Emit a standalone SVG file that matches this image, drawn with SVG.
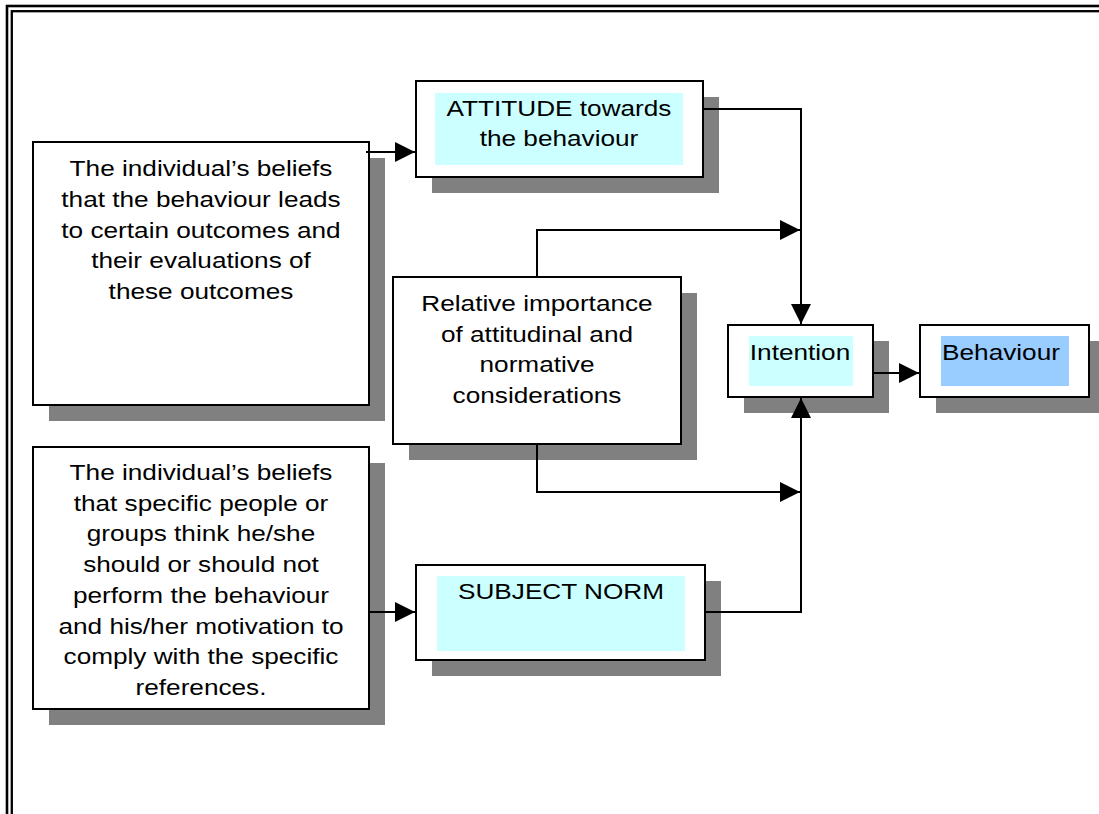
<svg xmlns="http://www.w3.org/2000/svg" width="1099" height="814" viewBox="0 0 1099 814">
  <style>
    .shadow { fill: #808080; }
    .box { fill: #ffffff; stroke: #000000; stroke-width: 2; }
    .hl { fill: #ccffff; }
    .hl2 { fill: #99ccff; }
    .frame { fill: none; stroke: #000000; }
    .conn { fill: none; stroke: #000000; stroke-width: 2; }
    text { font-family: "Liberation Sans", Arial, sans-serif; font-size: 22px; fill: #000000; text-anchor: middle; }
  </style>
  <defs>
    <marker id="arrow" markerWidth="20" markerHeight="20" refX="20" refY="10" orient="auto" markerUnits="userSpaceOnUse">
      <path d="M0,0 L20,10 L0,20 Z" fill="#000000"/>
    </marker>
  </defs>

  <rect x="0" y="0" width="1099" height="814" fill="#ffffff"/>

  <!-- double page frame -->
  <g id="frame">
    <rect class="frame" x="7" y="6" width="1200" height="900" stroke-width="2.6"/>
    <rect class="frame" x="11.8" y="11.2" width="1200" height="900" stroke-width="2.3"/>
  </g>

  <!-- beliefs about outcomes -->
  <g id="beliefs-outcomes">
    <rect class="shadow" x="49" y="158" width="336" height="263"/>
    <rect class="box" x="33" y="142" width="336" height="263"/>
    <g transform="translate(201,0) scale(1.19,1)">
      <text x="0" y="176">The individual’s beliefs</text>
      <text x="0" y="207">that the behaviour leads</text>
      <text x="0" y="238">to certain outcomes and</text>
      <text x="0" y="268">their evaluations of</text>
      <text x="0" y="299">these outcomes</text>
    </g>
  </g>

  <!-- attitude -->
  <g id="attitude">
    <rect class="shadow" x="432" y="97" width="287" height="96"/>
    <rect class="box" x="416" y="81" width="287" height="96"/>
    <rect class="hl" x="435" y="93" width="248" height="72"/>
    <g transform="translate(559,0) scale(1.19,1)">
      <text x="0" y="116">ATTITUDE towards</text>
      <text x="0" y="146">the behaviour</text>
    </g>
  </g>

  <!-- relative importance -->
  <g id="relative-importance">
    <rect class="shadow" x="409" y="293" width="288" height="167"/>
    <rect class="box" x="393" y="277" width="288" height="167"/>
    <g transform="translate(537,0) scale(1.19,1)">
      <text x="0" y="311">Relative importance</text>
      <text x="0" y="342">of attitudinal and</text>
      <text x="0" y="372">normative</text>
      <text x="0" y="403">considerations</text>
    </g>
  </g>

  <!-- intention -->
  <g id="intention">
    <rect class="shadow" x="744" y="341" width="145" height="72"/>
    <rect class="box" x="728" y="325" width="145" height="72"/>
    <rect class="hl" x="749" y="336" width="104" height="50"/>
    <g transform="translate(800,0) scale(1.19,1)">
      <text x="0" y="360">Intention</text>
    </g>
  </g>

  <!-- behaviour -->
  <g id="behaviour">
    <rect class="shadow" x="936" y="341" width="170" height="72"/>
    <rect class="box" x="920" y="325" width="169" height="72"/>
    <rect class="hl2" x="941" y="336" width="128" height="50"/>
    <g transform="translate(1001,0) scale(1.19,1)">
      <text x="0" y="360">Behaviour</text>
    </g>
  </g>

  <!-- normative beliefs -->
  <g id="beliefs-people">
    <rect class="shadow" x="49" y="463" width="336" height="262"/>
    <rect class="box" x="33" y="447" width="336" height="262"/>
    <g transform="translate(201,0) scale(1.19,1)">
      <text x="0" y="480">The individual’s beliefs</text>
      <text x="0" y="511">that specific people or</text>
      <text x="0" y="541">groups think he/she</text>
      <text x="0" y="572">should or should not</text>
      <text x="0" y="603">perform the behaviour</text>
      <text x="0" y="634">and his/her motivation to</text>
      <text x="0" y="664">comply with the specific</text>
      <text x="0" y="695">references.</text>
    </g>
  </g>

  <!-- subject norm -->
  <g id="subject-norm">
    <rect class="shadow" x="432" y="581" width="289" height="95"/>
    <rect class="box" x="416" y="565" width="289" height="95"/>
    <rect class="hl" x="437" y="576" width="248" height="75"/>
    <g transform="translate(561,0) scale(1.19,1)">
      <text x="0" y="599">SUBJECT NORM</text>
    </g>
  </g>

  <!-- connectors -->
  <g id="connectors">
    <path class="conn" d="M366,152 L415,152" marker-end="url(#arrow)"/>
    <path class="conn" d="M703,109 L801,109 L801,324" marker-end="url(#arrow)"/>
    <path class="conn" d="M537,277 L537,230 L800,230" marker-end="url(#arrow)"/>
    <path class="conn" d="M537,444 L537,492 L800,492" marker-end="url(#arrow)"/>
    <path class="conn" d="M705,612 L801,612 L801,398" marker-end="url(#arrow)"/>
    <path class="conn" d="M369,612 L415,612" marker-end="url(#arrow)"/>
    <path class="conn" d="M873,373 L919,373" marker-end="url(#arrow)"/>
  </g>
</svg>
